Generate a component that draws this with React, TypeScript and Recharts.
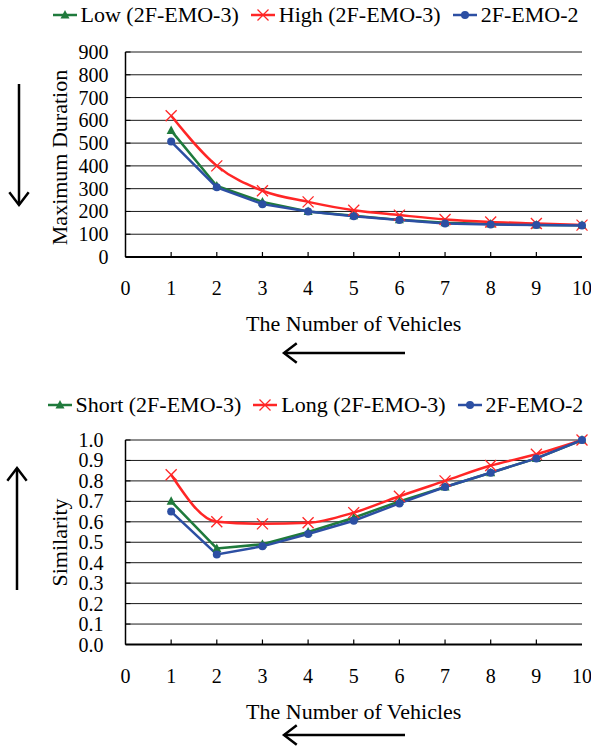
import React from 'react';
import { LineChart, Line, XAxis, YAxis, CartesianGrid, Legend } from 'recharts';

const vehicles = [1, 2, 3, 4, 5, 6, 7, 8, 9, 10];
const xTicks = [0, 1, 2, 3, 4, 5, 6, 7, 8, 9, 10];

const durationTicks = [0, 100, 200, 300, 400, 500, 600, 700, 800, 900];
const durationLow = [555, 312, 242, 200, 181, 163, 150, 145, 141, 139];
const durationHigh = [620, 400, 291, 242, 205, 184, 165, 154, 147, 140];
const duration2 = [507, 306, 232, 200, 179, 162, 147, 143, 140, 138];

const similarityTicks = [0, 0.1, 0.2, 0.3, 0.4, 0.5, 0.6, 0.7, 0.8, 0.9, 1.0];
const simShort = [0.70, 0.47, 0.49, 0.55, 0.62, 0.70, 0.77, 0.84, 0.91, 1.0];
const simLong = [0.83, 0.60, 0.59, 0.595, 0.645, 0.725, 0.80, 0.875, 0.93, 1.0];
const sim2 = [0.65, 0.44, 0.48, 0.54, 0.605, 0.69, 0.77, 0.84, 0.91, 1.0];

const topLegend = ['Low (2F-EMO-3)', 'High (2F-EMO-3)', '2F-EMO-2'];
const bottomLegend = ['Short (2F-EMO-3)', 'Long (2F-EMO-3)', '2F-EMO-2'];

const GREEN = '#1f7a3c';
const RED = '#ff2626';
const BLUE = '#2c4fa3';
const FONT = '"Liberation Serif", "Times New Roman", serif';

const durationData = vehicles.map((n, i) => ({ n, low: durationLow[i], high: durationHigh[i], base: duration2[i] }));
const similarityData = vehicles.map((n, i) => ({ n, low: simShort[i], high: simLong[i], base: sim2[i] }));

const marker = (kind: string, cx: number, cy: number, color: string) => {
  if (kind === 'tri')
    return <polygon points={`${cx},${cy - 5} ${cx - 4.5},${cy + 3.5} ${cx + 4.5},${cy + 3.5}`} fill={color} />;
  if (kind === 'x')
    return (
      <g stroke={color} strokeWidth={1.3}>
        <line x1={cx - 5.5} y1={cy - 5.5} x2={cx + 5.5} y2={cy + 5.5} />
        <line x1={cx - 5.5} y1={cy + 5.5} x2={cx + 5.5} y2={cy - 5.5} />
      </g>
    );
  return <circle cx={cx} cy={cy} r={4} fill={color} />;
};

const dotOf = (kind: string, color: string) => (p: any) => (
  <g key={`${kind}-${p.index}`}>{marker(kind, p.cx, p.cy, color)}</g>
);

const XTick = (props: any) => {
  const { x, y, payload } = props;
  const v = payload.value;
  return (
    <g>
      {v > 0 && v < 10 && <line x1={x} x2={x} y1={y} y2={y - 5} stroke="#000" strokeWidth={1.2} />}
      <text x={x} y={y + 38} textAnchor="middle" fontFamily={FONT} fontSize={20} fill="#000">{v}</text>
    </g>
  );
};

const makeYTick = (gap: number, digits: number | null) => (props: any) => {
  const { x, y, payload } = props;
  const label = digits === null ? payload.value : Number(payload.value).toFixed(digits);
  return (
    <g>
      <line x1={x} x2={x + 5} y1={y} y2={y} stroke="#000" strokeWidth={1} />
      <text x={x - gap} y={y} dy="0.35em" textAnchor="end" fontFamily={FONT} fontSize={20} fill="#000">{label}</text>
    </g>
  );
};

const LegendRow = ({ names }: { names: string[] }) => {
  const kinds = ['tri', 'x', 'dot'];
  const colors = [GREEN, RED, BLUE];
  return (
    <div style={{ display: 'flex', justifyContent: 'center', alignItems: 'center', gap: 12, fontFamily: FONT, fontSize: 22, color: '#000', whiteSpace: 'nowrap' }}>
      {names.map((name, i) => (
        <span key={name} style={{ display: 'flex', alignItems: 'center' }}>
          <svg width={24} height={14}>
            <line x1={0} x2={24} y1={7} y2={7} stroke={colors[i]} strokeWidth={2.5} />
            {marker(kinds[i], 12, 7, colors[i])}
          </svg>
          <span style={{ marginLeft: 4 }}>{name}</span>
        </span>
      ))}
    </div>
  );
};

const XTitle = (props: any) => (
  <text x={353.75} y={props.baseline} textAnchor="middle" fontFamily={FONT} fontSize={22} fill="#000">
    The Number of Vehicles
  </text>
);

const YTitle = (props: any) => (
  <text x={67} y={props.cy} transform={`rotate(-90 67 ${props.cy})`} textAnchor="middle" fontFamily={FONT} fontSize={22} fill="#000">
    {props.text}
  </text>
);

const Panel = (props: any) => {
  const { data, ticks, domain, legend, legendTop, top, height, bottomMargin, gap, digits, yTitle, yTitleCy, xTitleY } = props;
  return (
    <div style={{ position: 'absolute', left: 0, top, width: 591, height }}>
      <LineChart width={591} height={height} data={data} margin={{ top: props.plotTop, right: 9, bottom: bottomMargin, left: 25.5 }}>
        <CartesianGrid vertical={false} stroke="#1a1a1a" strokeWidth={1} horizontalValues={ticks} />
        <XAxis
          dataKey="n"
          type="number"
          domain={[0, 10]}
          ticks={xTicks}
          interval={0}
          height={60}
          tickSize={0}
          tickMargin={0}
          axisLine={{ stroke: '#000', strokeWidth: 2 }}
          tick={<XTick />}
          label={<XTitle baseline={xTitleY} />}
        />
        <YAxis
          domain={domain}
          ticks={ticks}
          interval={0}
          width={100}
          tickSize={0}
          tickMargin={0}
          axisLine={{ stroke: '#000', strokeWidth: 1.5 }}
          tick={makeYTick(gap, digits)}
          label={<YTitle text={yTitle} cy={yTitleCy} />}
        />
        <YAxis yAxisId="frame" orientation="right" width={0} tick={false} tickLine={false} axisLine={{ stroke: '#8a8a8a', strokeWidth: 2 }} />
        <Legend
          layout="horizontal"
          verticalAlign="middle"
          align="center"
          wrapperStyle={{ top: legendTop, left: 40, width: 551 }}
          content={() => <LegendRow names={legend} />}
        />
        <Line dataKey="low" type="linear" stroke={GREEN} strokeWidth={2.5} dot={dotOf('tri', GREEN)} isAnimationActive={false} />
        <Line dataKey="high" type="monotone" stroke={RED} strokeWidth={2.5} dot={dotOf('x', RED)} isAnimationActive={false} />
        <Line dataKey="base" type="linear" stroke={BLUE} strokeWidth={2.5} dot={dotOf('dot', BLUE)} isAnimationActive={false} />
      </LineChart>
    </div>
  );
};

const Arrow = ({ x1, y1, x2, y2 }: { x1: number; y1: number; x2: number; y2: number }) => {
  const a = Math.atan2(y2 - y1, x2 - x1);
  const len = 16;
  const w = 0.65;
  const p1 = [x2 - len * Math.cos(a - w), y2 - len * Math.sin(a - w)];
  const p2 = [x2 - len * Math.cos(a + w), y2 - len * Math.sin(a + w)];
  return (
    <g stroke="#000" strokeWidth={2.5} fill="none">
      <line x1={x1} y1={y1} x2={x2} y2={y2} />
      <polyline points={`${p1[0]},${p1[1]} ${x2},${y2} ${p2[0]},${p2[1]}`} />
    </g>
  );
};

export default function App() {
  return (
    <div style={{ position: 'absolute', left: 0, top: 0, width: 591, height: 746, background: '#fff' }}>
      <Panel
        data={durationData}
        ticks={durationTicks}
        domain={[0, 900]}
        legend={topLegend}
        legendTop={2}
        top={0}
        height={380}
        plotTop={52}
        bottomMargin={63}
        gap={17}
        digits={null}
        yTitle="Maximum Duration"
        yTitleCy={157.5}
        xTitleY={331}
      />
      <Panel
        data={similarityData}
        ticks={similarityTicks}
        domain={[0, 1]}
        legend={bottomLegend}
        legendTop={12}
        top={380}
        height={366}
        plotTop={60}
        bottomMargin={41.5}
        gap={22}
        digits={1}
        yTitle="Similarity"
        yTitleCy={162.5}
        xTitleY={339}
      />
      <svg width={591} height={746} style={{ position: 'absolute', left: 0, top: 0, pointerEvents: 'none' }}>
        <Arrow x1={19} y1={84} x2={19} y2={205} />
        <Arrow x1={17} y1={590} x2={17} y2={468} />
        <Arrow x1={405} y1={353} x2={284} y2={353} />
        <Arrow x1={405} y1={735} x2={284} y2={735} />
      </svg>
    </div>
  );
}
